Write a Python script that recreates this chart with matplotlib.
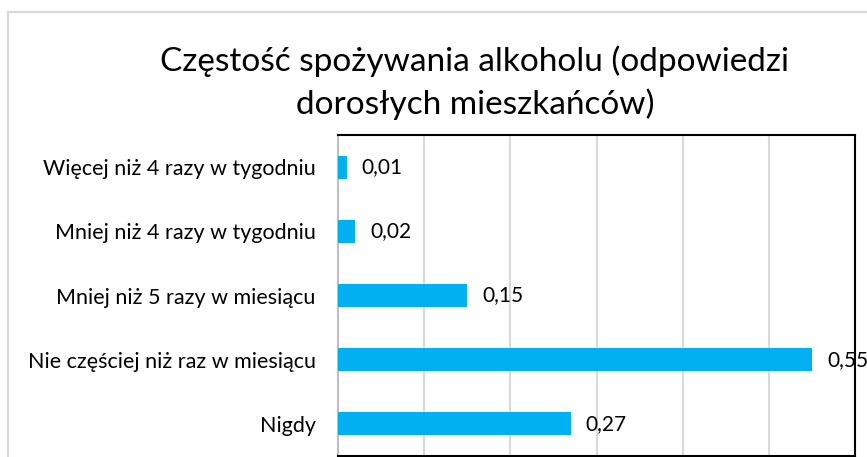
import matplotlib
matplotlib.use("Agg")
import matplotlib.pyplot as plt
from matplotlib.lines import Line2D

categories = ["Nigdy",
              "Nie częściej niż raz w miesiącu",
              "Mniej niż 5 razy w miesiącu",
              "Mniej niż 4 razy w tygodniu",
              "Więcej niż 4 razy w tygodniu"]
values = [0.27, 0.55, 0.15, 0.02, 0.01]
value_labels = ["0,27", "0,55", "0,15", "0,02", "0,01"]
x_ticks = [0, 0.1, 0.2, 0.3, 0.4, 0.5, 0.6]
title = "Częstość spożywania alkoholu (odpowiedzi\ndorosłych mieszkańców)"

plt.rcParams['font.family'] = ['Lato', 'DejaVu Sans']

W, H = 867, 457
fig = plt.figure(figsize=(W / 100, H / 100), dpi=100)
ax = fig.add_axes([338 / W, 1 - 456 / H, (855 - 338) / W, (456 - 135) / H])

ypos = list(range(len(categories)))
ax.barh(ypos, values, height=0.36, color="#00B0F0", zorder=3)
for y, v, lab in zip(ypos, values, value_labels):
    ax.annotate(lab, (v, y), xytext=(15, 0), textcoords="offset pixels",
                ha="left", va="center", fontsize=15, color="#000000",
                zorder=5, annotation_clip=False)

ax.set_xlim(0, 0.6)
ax.set_ylim(-0.5, 4.5)
ax.set_xticks(x_ticks)
ax.set_xticklabels([])
ax.tick_params(axis="x", length=0)
ax.set_yticks(ypos)
ax.set_yticklabels(categories, fontsize=15.5, color="#000000")
ax.tick_params(axis="y", length=0, pad=16)
ax.grid(axis="x", color="#d9d9d9", linewidth=1.5, zorder=0)
ax.set_axisbelow(True)
for s in ["top", "right", "bottom"]:
    ax.spines[s].set_color("#000000")
    ax.spines[s].set_linewidth(1.5)
ax.spines["left"].set_color("#bfbfbf")
ax.spines["left"].set_linewidth(1.5)

fig.text(475 / W, 1 - 82.5 / H, title, ha="center", va="center",
         fontsize=24, color="#000000", linespacing=1.45)

# outer chart border
fig.add_artist(Line2D([8 / W, 1], [1 - 12 / H, 1 - 12 / H], transform=fig.transFigure,
                      color="#d9d9d9", linewidth=1.5))
fig.add_artist(Line2D([8 / W, 8 / W], [0, 1 - 12 / H], transform=fig.transFigure,
                      color="#d9d9d9", linewidth=1.5))

fig.savefig("out.png", dpi=100)
